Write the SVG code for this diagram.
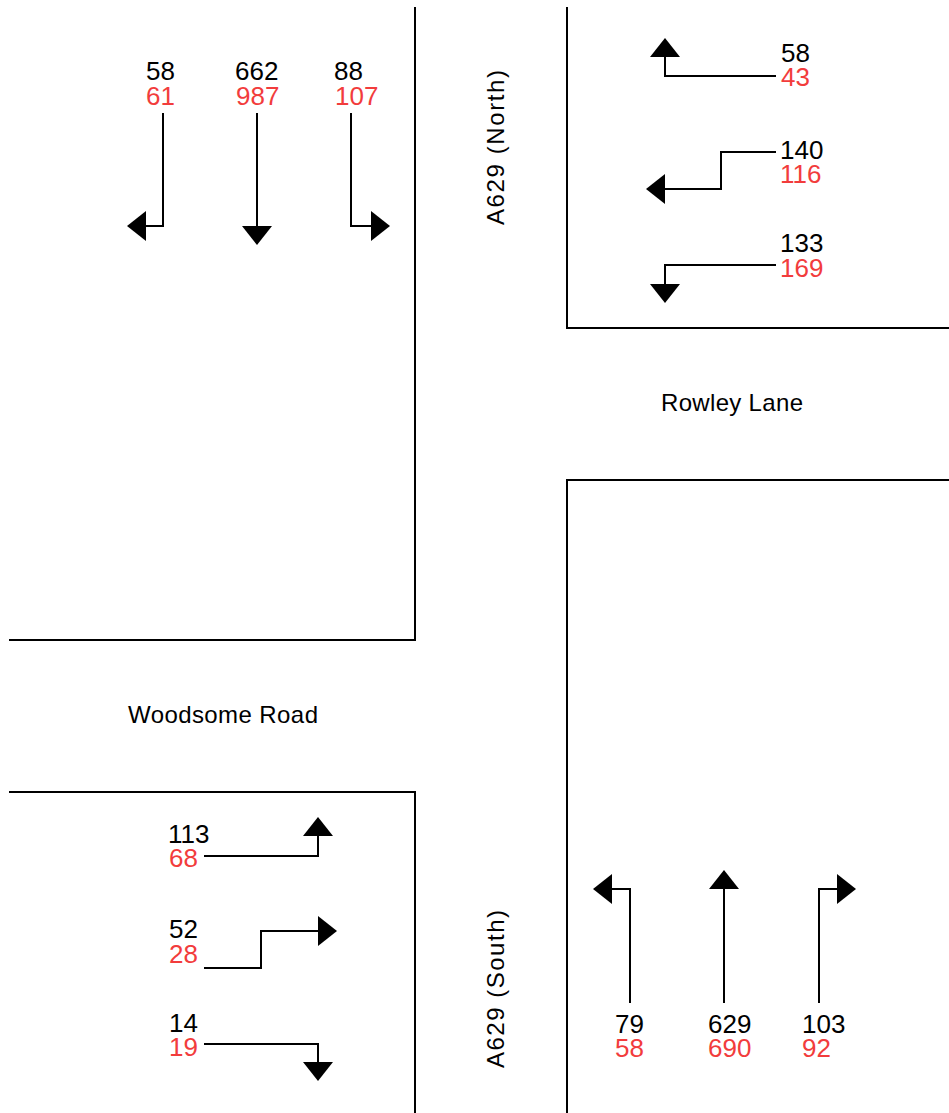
<svg xmlns="http://www.w3.org/2000/svg" width="949" height="1113" viewBox="0 0 949 1113">
<style>
.road{fill:none;stroke:#000;stroke-width:2}
.mv{fill:none;stroke:#000;stroke-width:2;marker-end:url(#ah)}
.n{font-family:"Liberation Sans",Arial,sans-serif;font-size:26px;fill:#000}
.r{font-family:"Liberation Sans",Arial,sans-serif;font-size:26px;fill:#f23c3c}
.lbl{font-family:"Liberation Sans",Arial,sans-serif;font-size:24px;fill:#000}
</style>
<defs>
<marker id="ah" markerUnits="userSpaceOnUse" markerWidth="20" markerHeight="30" refX="0" refY="15" orient="auto" viewBox="0 0 20 30">
<path d="M0,0 L19,15 L0,30 Z" fill="#000"/>
</marker>
</defs>
<rect width="949" height="1113" fill="#fff"/>
<g id="kerbs">
<path class="road" d="M415,7 V640 H9"/>
<path class="road" d="M567,7 V328 H949"/>
<path class="road" d="M949,480 H567 V1113"/>
<path class="road" d="M9,792 H415 V1113"/>
</g>
<g id="road-labels">
<text class="lbl" x="128" y="723" textLength="190" lengthAdjust="spacing">Woodsome Road</text>
<text class="lbl" x="661" y="411" textLength="142" lengthAdjust="spacing">Rowley Lane</text>
<text class="lbl" transform="translate(504,225) rotate(-90)" x="0" y="0" textLength="155" lengthAdjust="spacing">A629 (North)</text>
<text class="lbl" transform="translate(504,1068) rotate(-90)" x="0" y="0" textLength="158" lengthAdjust="spacing">A629 (South)</text>
</g>
<g id="connectors">
<path class="mv" d="M163,113 V226 H146"/>
<path class="mv" d="M257,113 V226"/>
<path class="mv" d="M351,113 V226 H371"/>
<path class="mv" d="M776,76 H665 V57"/>
<path class="mv" d="M776,152 H721 V189 H665"/>
<path class="mv" d="M776,265 H665 V284"/>
<path class="mv" d="M204,856 H318 V836"/>
<path class="mv" d="M204,968 H261 V931 H318"/>
<path class="mv" d="M204,1044 H318 V1062"/>
<path class="mv" d="M630,1003 V889 H612"/>
<path class="mv" d="M724,1003 V889"/>
<path class="mv" d="M819,1003 V889 H837"/>
</g>
<g id="north-approach">
<text class="n" x="146" y="80">58</text><text class="r" x="146" y="105">61</text>
<text class="n" x="235" y="80">662</text><text class="r" x="236" y="105">987</text>
<text class="n" x="334" y="80">88</text><text class="r" x="335" y="105">107</text>
</g>
<g id="east-approach">
<text class="n" x="781" y="62">58</text><text class="r" x="781" y="86">43</text>
<text class="n" x="780" y="159">140</text><text class="r" x="780" y="183">116</text>
<text class="n" x="780" y="252">133</text><text class="r" x="780" y="277">169</text>
</g>
<g id="west-approach">
<text class="n" x="168" y="843">113</text><text class="r" x="169" y="867">68</text>
<text class="n" x="169" y="938">52</text><text class="r" x="169" y="963">28</text>
<text class="n" x="169" y="1032">14</text><text class="r" x="169" y="1056">19</text>
</g>
<g id="south-approach">
<text class="n" x="615" y="1033">79</text><text class="r" x="615" y="1057">58</text>
<text class="n" x="708" y="1033">629</text><text class="r" x="708" y="1057">690</text>
<text class="n" x="802" y="1033">103</text><text class="r" x="802" y="1057">92</text>
</g>
</svg>
